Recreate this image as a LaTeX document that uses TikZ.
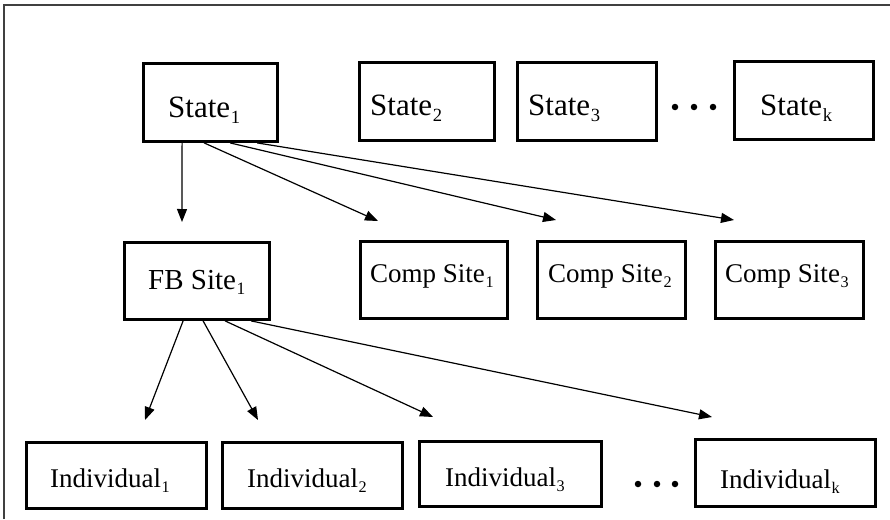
\documentclass[tikz,border=0pt]{standalone}
\usepackage{fontspec}
\setmainfont{Liberation Serif}
\usetikzlibrary{arrows.meta}

% small, lowered subscript numerals
\newcommand{\sub}[1]{\kern0.02em\raisebox{-0.2em}{\scalebox{0.6}{#1}}}

\tikzset{
  box/.style={draw, line width=2.8pt, rectangle, inner sep=0pt},
  lbl/.style={anchor=base west, inner sep=0pt},
  link/.style={line width=1.2pt, -{Triangle[length=13pt,width=10pt]}},
  dot/.style={circle, fill, inner sep=0pt, minimum size=6.5pt},
  frame/.style={line width=1.3pt, black!75}
}

\begin{document}
\begin{tikzpicture}[x=1pt, y=-1pt]
\useasboundingbox (0,0) rectangle (890,519);

% open frame (top and left edges)
\draw[frame] (4,519) -- (4,5) -- (890,5);

% states
\node[box, minimum width=134pt, minimum height=78pt] (s1) at (210.5,102.5) {};
\node[box, minimum width=135pt, minimum height=78pt] (s2) at (427,101.5) {};
\node[box, minimum width=139pt, minimum height=78pt] (s3) at (587,101.5) {};
\node[box, minimum width=139pt, minimum height=78pt] (sk) at (804,100.5) {};
\node[lbl, font=\fontsize{31}{36}\selectfont] (s1t) at (168,117) {State\sub{1}};
\node[lbl, font=\fontsize{31}{36}\selectfont] (s2t) at (370,115) {State\sub{2}};
\node[lbl, font=\fontsize{31}{36}\selectfont] (s3t) at (528,115) {State\sub{3}};
\node[lbl, font=\fontsize{31}{36}\selectfont] (skt) at (760,115) {State\sub{k}};
\node[dot] (sd1) at (675,107) {};
\node[dot] (sd2) at (694,107) {};
\node[dot] (sd3) at (713,107) {};

% sites
\node[box, minimum width=145pt, minimum height=77pt] (fb) at (197,281) {};
\node[box, minimum width=147pt, minimum height=77pt] (c1) at (434,280) {};
\node[box, minimum width=148pt, minimum height=77pt] (c2) at (611.5,280) {};
\node[box, minimum width=148pt, minimum height=77pt] (c3) at (789.5,280) {};
\node[lbl, font=\fontsize{29}{34}\selectfont] (fbt) at (148,289) {FB Site\sub{1}};
\node[lbl, font=\fontsize{27}{32}\selectfont] (c1t) at (370,282) {Comp Site\sub{1}};
\node[lbl, font=\fontsize{27}{32}\selectfont] (c2t) at (548,282) {Comp Site\sub{2}};
\node[lbl, font=\fontsize{27}{32}\selectfont] (c3t) at (725,282) {Comp Site\sub{3}};

% individuals
\node[box, minimum width=180pt, minimum height=66pt] (i1) at (116.5,475.5) {};
\node[box, minimum width=180pt, minimum height=66pt] (i2) at (312.5,475.5) {};
\node[box, minimum width=182pt, minimum height=65pt] (i3) at (510.5,474) {};
\node[box, minimum width=180pt, minimum height=67pt] (ik) at (785.5,473) {};
\node[lbl, font=\fontsize{27}{32}\selectfont] (i1t) at (50,487) {Individual\sub{1}};
\node[lbl, font=\fontsize{27}{32}\selectfont] (i2t) at (247,487) {Individual\sub{2}};
\node[lbl, font=\fontsize{27}{32}\selectfont] (i3t) at (445,486) {Individual\sub{3}};
\node[lbl, font=\fontsize{27}{32}\selectfont] (ikt) at (720,488) {Individual\sub{k}};
\node[dot] (id1) at (638,484) {};
\node[dot] (id2) at (657,484) {};
\node[dot] (id3) at (675,484) {};

% arrow ends, just above each target box
\coordinate (afb) at (182,222);
\coordinate (ac1) at (378,221);
\coordinate (ac2) at (556,220);
\coordinate (ac3) at (734,220);
\coordinate (ai1) at (145,420);
\coordinate (ai2) at (258,420);
\coordinate (ai3) at (433,417);
\coordinate (aik) at (712,417);

% state 1 to its sites
\draw[link] ([xshift=40pt]s1.south west) -- (afb);
\draw[link] ([xshift=62pt]s1.south west) -- (ac1);
\draw[link] ([xshift=88pt]s1.south west) -- (ac2);
\draw[link] ([xshift=115pt]s1.south west) -- (ac3);

% FB site to individuals
\draw[link] ([xshift=60pt]fb.south west) -- (ai1);
\draw[link] ([xshift=80pt]fb.south west) -- (ai2);
\draw[link] ([xshift=102pt]fb.south west) -- (ai3);
\draw[link] ([xshift=128pt]fb.south west) -- (aik);
\end{tikzpicture}
\end{document}
